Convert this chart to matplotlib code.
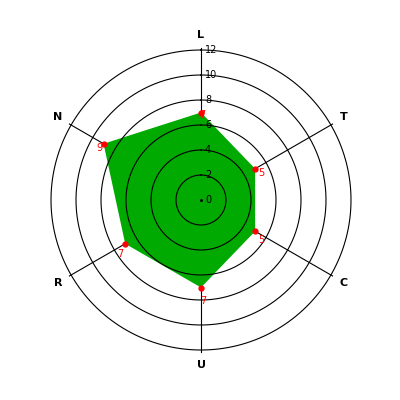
import matplotlib
matplotlib.use("Agg")
import matplotlib.pyplot as plt
import numpy as np

# Data
categories = ["L", "T", "C", "U", "R", "N"]
values = [7, 5, 5, 7, 7, 9]
ring_values = [2, 4, 6, 8, 10, 12]
tick_labels = ["0", "2", "4", "6", "8", "10", "12"]
r_max = 12

# label offsets (pixels) for the red value labels
value_offsets = [(1, -2), (6, -4), (6, -9), (2, -13), (-5, -10), (-4, -4)]


def make_plot():
    fig = plt.figure(figsize=(4, 4), dpi=100)
    ax = fig.add_axes([0.1275, 0.125, 0.75, 0.75], projection="polar")
    ax.set_theta_zero_location("N")
    ax.set_theta_direction(-1)
    ax.set_ylim(0, r_max)
    ax.set_axis_off()

    n = len(categories)
    angles = np.arange(n) * 2 * np.pi / n

    # spokes (under the fill)
    for a in angles:
        ax.plot([a, a], [0, r_max + 0.15], color="black", lw=0.8, zorder=1,
                clip_on=False)

    # filled polygon
    a_closed = np.append(angles, angles[0])
    v_closed = np.append(values, values[0])
    ax.fill(a_closed, v_closed, color="#00aa00", lw=0, zorder=2)

    # rings (over the fill)
    theta = np.linspace(0, 2 * np.pi, 400)
    for r in ring_values:
        ax.plot(theta, np.full_like(theta, r), color="black", lw=0.8, zorder=3,
                clip_on=False)
    ax.plot([0], [0], marker="s", ms=1, color="black", zorder=3)

    # scale labels along the top spoke
    for i, lab in enumerate(tick_labels):
        ax.annotate(lab, xy=(0, i * 2), xytext=(4, 0), textcoords="offset pixels",
                    ha="left", va="center", fontsize=7, color="black", zorder=4,
                    annotation_clip=False)

    # points and value labels
    ax.plot(angles, values, "o", color="red", ms=3.5, mec="red", zorder=5)
    for a, v, off in zip(angles, values, value_offsets):
        ax.annotate(str(v), xy=(a, v), xytext=off, textcoords="offset pixels",
                    ha="center", va="center", fontsize=7, color="red", zorder=6)

    # category labels
    for a, c in zip(angles, categories):
        ax.text(a, 13.2, c, ha="center", va="center", fontsize=8,
                fontweight="bold", color="black", clip_on=False)

    fig.savefig("out.png", dpi=100)


if __name__ == "__main__":
    make_plot()
